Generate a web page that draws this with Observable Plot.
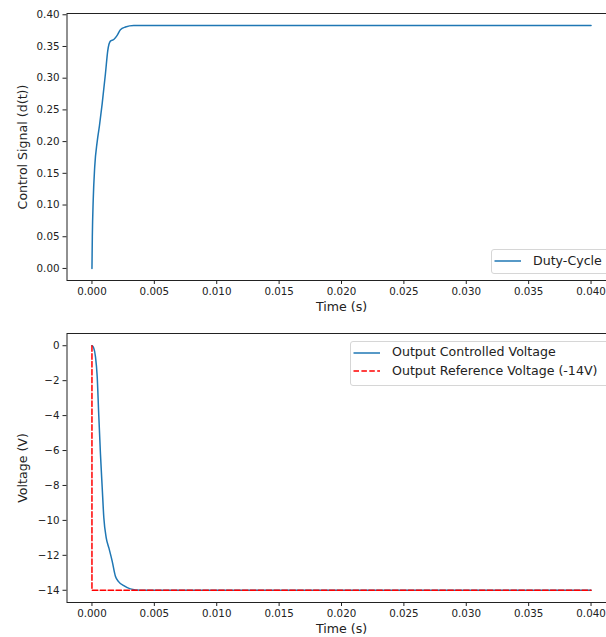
<!DOCTYPE html>
<html>
<head>
<meta charset="utf-8">
<script src="https://cdn.jsdelivr.net/npm/d3@7"></script>
<script src="https://cdn.jsdelivr.net/npm/@observablehq/plot@0.6"></script>
<style>
  body { margin: 0; background: white; }
  #fig { position: relative; width: 606px; height: 637px; overflow: hidden; background: white; font-family: "DejaVu Sans", sans-serif; }
  #fig svg { max-width: none !important; }
  .legbox { position: absolute; border: 1px solid #d6d6d6; border-radius: 3px; background: rgba(255,255,255,0.8); box-sizing: border-box; }
  .legtxt { position: absolute; font-size: 12.6px; color: #222; white-space: nowrap; line-height: 16px; }
</style>
</head>
<body>
<div id="fig"></div>
<script>
// ---- data ----
const timeTicks = [0, 0.005, 0.01, 0.015, 0.02, 0.025, 0.03, 0.035, 0.04];
const dutyTicks = [0, 0.05, 0.10, 0.15, 0.20, 0.25, 0.30, 0.35, 0.40];
const voltTicks = [0, -2, -4, -6, -8, -10, -12, -14];

const dutyTime  = [0, 0.00003, 0.0001, 0.00022, 0.00042, 0.0006, 0.00082, 0.00108, 0.00127, 0.00148, 0.00175, 0.00202, 0.00228, 0.00268, 0.00335, 0.005, 0.04];
const dutyValue = [0, 0.05,    0.107,  0.16,    0.20,    0.225,  0.26,    0.307,   0.344,   0.3585,  0.361,   0.3675,  0.3765,  0.3806,  0.383,   0.383, 0.383];

const voltTime  = [0, 0.00014, 0.00028, 0.00042, 0.00054, 0.00068, 0.00082, 0.00095, 0.00114, 0.00135, 0.00162, 0.00188, 0.00215, 0.00255, 0.00308, 0.00389, 0.04];
const voltValue = [0, -0.13,   -0.62,   -1.77,   -3.88,   -6.18,   -8.10,   -9.83,   -10.98,  -11.56,  -12.33,  -13.2,   -13.52,  -13.73,  -13.92,  -14.0,   -14.0];

const refTime  = [0, 0, 0.04];
const refValue = [0, -14, -14];

const seriesNames = ["Duty-Cycle", "Output Controlled Voltage", "Output Reference Voltage (-14V)"];
const axisLabels = { time: "Time (s)", duty: "Control Signal (d(t))", volt: "Voltage (V)" };

// ---- build tables ----
const duty = dutyTime.map((t, i) => ({ t, v: dutyValue[i] }));
const volt = voltTime.map((t, i) => ({ t, v: voltValue[i] }));
const ref  = refTime.map((t, i) => ({ t, v: refValue[i] }));

const blue = "#1f77b4";
const ink = "#222";
const baseStyle = { fontFamily: "DejaVu Sans, sans-serif", fontSize: "10.3px", color: ink, background: "white", overflow: "visible", maxWidth: "none" };
const W = 640, ML = 66.5, MR = W - 615.5;

function panel(opts) {
  return Plot.plot({
    width: W,
    height: opts.height,
    marginLeft: ML,
    marginRight: MR,
    marginTop: opts.marginTop,
    marginBottom: opts.marginBottom,
    style: baseStyle,
    x: { domain: [-0.002, 0.042] },
    y: { domain: opts.yDomain },
    marks: [
      Plot.axisX({ ticks: timeTicks, tickFormat: d3.format(".3f"), tickSize: 4, tickPadding: 3.5, label: null, stroke: ink }),
      Plot.axisY({ ticks: opts.yTicks, tickFormat: opts.yFormat, tickSize: 4, tickPadding: 3.5, label: null, stroke: ink }),
      ...opts.marks,
      Plot.frame({ stroke: ink, strokeWidth: 1 }),
      Plot.text([axisLabels.time], { frameAnchor: "bottom", lineAnchor: "middle", textAnchor: "middle", dy: opts.xLabelDy, fontSize: 12.6, fill: ink }),
      Plot.text([opts.yLabel], { frameAnchor: "left", lineAnchor: "middle", textAnchor: "middle", dx: -44, rotate: -90, fontSize: 12.6, fill: ink })
    ]
  });
}

const topPlot = panel({
  height: 318, marginTop: 13, marginBottom: 38, xLabelDy: 26,
  yDomain: [-0.019, 0.402], yTicks: dutyTicks, yFormat: d3.format(".2f"), yLabel: axisLabels.duty,
  marks: [
    Plot.line(duty, { x: "t", y: "v", stroke: blue, strokeWidth: 1.5, curve: "monotone-x" })
  ]
});

const bottomPlot = panel({
  height: 319, marginTop: 15, marginBottom: 35, xLabelDy: 26.5,
  yDomain: [-14.7, 0.7], yTicks: voltTicks, yFormat: d3.format(".0f"), yLabel: axisLabels.volt,
  marks: [
    Plot.line(volt, { x: "t", y: "v", stroke: blue, strokeWidth: 1.5, curve: "monotone-x" }),
    Plot.line(ref, { x: "t", y: "v", stroke: "#ff0000", strokeWidth: 1.5, strokeDasharray: "5.5,2.4" })
  ]
});

const fig = document.getElementById("fig");
topPlot.style.position = "absolute"; topPlot.style.left = "0px"; topPlot.style.top = "0px";
bottomPlot.style.position = "absolute"; bottomPlot.style.left = "0px"; bottomPlot.style.top = "318px";
fig.appendChild(topPlot);
fig.appendChild(bottomPlot);

// ---- legends ----
function legend(left, topY, height, rows) {
  const box = document.createElement("div");
  box.className = "legbox";
  Object.assign(box.style, { left: left + "px", top: topY + "px", width: "300px", height: height + "px" });
  fig.appendChild(box);
  rows.forEach(r => {
    const s = document.createElementNS("http://www.w3.org/2000/svg", "svg");
    s.setAttribute("width", 30); s.setAttribute("height", 6);
    s.style.position = "absolute"; s.style.left = (left + 2.5) + "px"; s.style.top = (r.y - 3) + "px";
    const ln = document.createElementNS("http://www.w3.org/2000/svg", "line");
    ln.setAttribute("x1", 0.5); ln.setAttribute("x2", 27); ln.setAttribute("y1", 3); ln.setAttribute("y2", 3);
    ln.setAttribute("stroke", r.color); ln.setAttribute("stroke-width", 1.5);
    if (r.dash) ln.setAttribute("stroke-dasharray", r.dash);
    s.appendChild(ln);
    fig.appendChild(s);
    const tx = document.createElement("div");
    tx.className = "legtxt";
    tx.textContent = r.label;
    tx.style.left = (left + 42) + "px"; tx.style.top = (r.y - 8.5) + "px";
    fig.appendChild(tx);
  });
}
legend(491, 249, 24.5, [{ y: 261, color: blue, label: seriesNames[0] }]);
legend(350, 341, 44.5, [
  { y: 352.5, color: blue, label: seriesNames[1] },
  { y: 371, color: "#ff0000", dash: "5.5,2.4", label: seriesNames[2] }
]);
</script>
</body>
</html>
